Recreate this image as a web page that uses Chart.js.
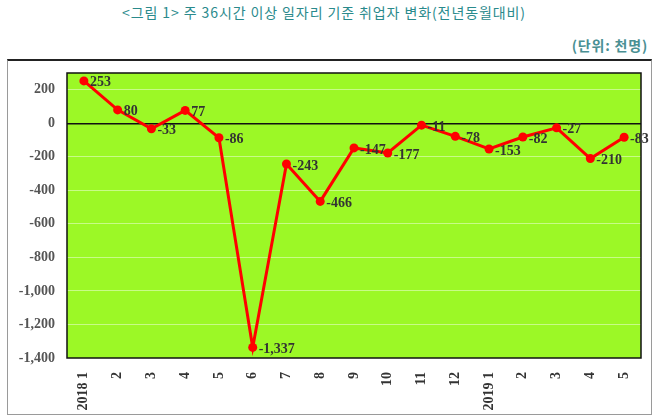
<!DOCTYPE html>
<html><head><meta charset="utf-8">
<script src="https://cdn.jsdelivr.net/npm/chart.js@4.4.0/dist/chart.umd.min.js"></script>
<style>
body{margin:0;width:658px;height:420px;background:#fff;position:relative;overflow:hidden;}
#title{position:absolute;left:0;width:648px;top:2px;text-align:center;font:14px "Noto Sans CJK KR";letter-spacing:0.9px;color:#2a8a8c;}
#unit{position:absolute;right:10px;top:35px;font:bold 14px "Noto Sans CJK KR";letter-spacing:0.8px;color:#4a9093;}
#frame{position:absolute;left:7px;top:59px;width:643px;height:353px;border:1px solid #9a9a9a;border-top:2px solid #222;}
canvas{position:absolute;left:0;top:0;}
</style></head><body>
<div id="title">&lt;그림 1&gt; 주 36시간 이상 일자리 기준 취업자 변화(전년동월대비)</div>
<div id="unit">(단위: 천명)</div>
<div id="frame"><canvas id="c" width="643" height="353"></canvas></div>
<script>
const categories = ["2018 1","2","3","4","5","6","7","8","9","10","11","12","2019 1","2","3","4","5"];
const values = [253,80,-33,77,-86,-1337,-243,-466,-147,-177,-11,-78,-153,-82,-27,-210,-83];
const yTicks = [200,0,-200,-400,-600,-800,-1000,-1200,-1400];

const bgPlugin = {
  id:'bg',
  beforeDraw(chart){
    const {ctx,chartArea:a}=chart;
    ctx.save();ctx.fillStyle='#9cf826';ctx.fillRect(a.left,a.top,a.right-a.left,a.bottom-a.top);ctx.restore();
  },
  afterDatasetsDraw(chart){
    const {ctx,chartArea:a}=chart;
    ctx.save();
    ctx.strokeStyle='#111';ctx.lineWidth=1.5;
    ctx.strokeRect(a.left,a.top,a.right-a.left,a.bottom-a.top);
    const meta=chart.getDatasetMeta(0);
    ctx.font='bold 14px "Liberation Serif"';
    ctx.fillStyle='#333';
    ctx.textAlign='left';ctx.textBaseline='middle';
    meta.data.forEach((p,i)=>{
      const v=values[i];
      const t=v.toLocaleString('en-US');
      ctx.fillText(t,p.x+6,p.y+2);
    });
    ctx.restore();
  }
};

new Chart(document.getElementById('c'),{
  type:'line',
  data:{labels:categories,datasets:[{data:values,borderColor:'#ff0000',backgroundColor:'#ff0000',borderWidth:3,pointRadius:4.5,pointBackgroundColor:'#ff0000',pointBorderWidth:0,tension:0}]},
  options:{
    responsive:false,animation:false,
    layout:{padding:{top:12,right:10,left:0,bottom:0}},
    plugins:{legend:{display:false},tooltip:{enabled:false}},
    scales:{
      x:{offset:true,grid:{display:false},border:{display:false},
        ticks:{minRotation:90,maxRotation:90,autoSkip:false,color:'#333',font:{family:'Liberation Serif',weight:'bold',size:14},padding:6},
        afterFit(s){s.height=56;}},
      y:{min:-1400,max:300,
        afterBuildTicks(s){s.ticks=yTicks.map(v=>({value:v}));},
        grid:{color:(c)=>c.tick&&c.tick.value===0?'#111':'rgba(255,255,255,0.45)',lineWidth:(c)=>c.tick&&c.tick.value===0?1.5:1,drawTicks:false},
        border:{display:false},
        ticks:{color:'#555',font:{family:'Liberation Serif',weight:'bold',size:14},padding:12,callback:(v)=>v.toLocaleString('en-US')},
        afterFit(s){s.width=59;s.paddingTop=0;s.paddingBottom=0;}}
    }
  },
  plugins:[bgPlugin]
});
</script>
</body></html>
